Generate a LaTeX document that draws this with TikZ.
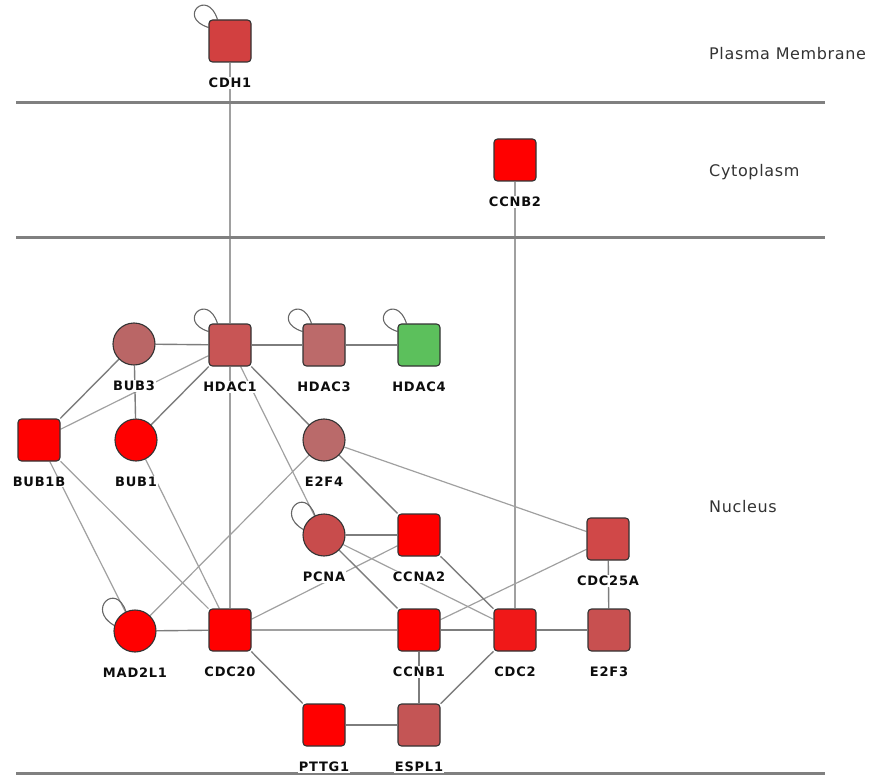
\documentclass[tikz,border=0pt]{standalone}
\usepackage{fontspec}
\setmainfont{DejaVu Sans}
\newfontfamily\lblfont[LetterSpace=6]{DejaVu Sans}
\newfontfamily\compfont[LetterSpace=4]{DejaVu Sans}
\usetikzlibrary{backgrounds}
\definecolor{cRed}{RGB}{255,0,0}
\definecolor{cCDH}{RGB}{210,64,64}
\definecolor{cHDA}{RGB}{200,85,85}
\definecolor{cBUB}{RGB}{186,102,102}
\definecolor{cHD3}{RGB}{188,106,106}
\definecolor{cHD4}{RGB}{92,192,92}
\definecolor{cE24}{RGB}{186,106,106}
\definecolor{cPCN}{RGB}{200,76,76}
\definecolor{cC25}{RGB}{208,72,72}
\definecolor{cCD2}{RGB}{240,24,24}
\definecolor{cE23}{RGB}{200,80,80}
\definecolor{cESP}{RGB}{196,85,85}
\definecolor{cLine}{RGB}{160,160,160}
\definecolor{cDLine}{RGB}{125,125,125}
\definecolor{cSep}{RGB}{128,128,128}
\begin{document}
\begin{tikzpicture}[x=1pt,y=-1pt,
  gene/.style={draw=black!80, line width=1.1pt, minimum size=42pt, inner sep=0pt,
    label={[lbl]below:#1}},
  sq/.style={gene=#1, rectangle, rounded corners=3.5pt},
  ci/.style={gene=#1, circle},
  lbl/.style={fill=white, inner sep=1pt, label distance=14pt,
    font=\lblfont\bfseries\fontsize{13}{15}\selectfont, text=black!95},
  edge/.style={draw=cLine, line width=1.2pt},
  dedge/.style={draw=cDLine, line width=1.4pt},
  selfloop/.style={draw=black!60, line width=1.1pt},
  comp/.style={font=\compfont\fontsize{16}{19}\selectfont, text=black!80, anchor=west, inner sep=0pt},
  sep/.style={draw=cSep, line width=3pt}]
\useasboundingbox (0,0) rectangle (873,778);

% compartments
\draw[sep] (16,103) -- (825,103);
\draw[sep] (16,238) -- (825,238);
\draw[sep] (16,773) -- (825,773);
\node[comp] (pm) at (709,54) {Plasma Membrane};
\node[comp] (cy) at (709,172) {Cytoplasm};
\node[comp] (nu) at (709,507) {Nucleus};

% nodes
\node[sq=CDH1, fill=cCDH] (cdh1) at (230,41) {};
\node[sq=CCNB2, fill=cRed] (ccnb2) at (515,160) {};
\node[ci=BUB3, fill=cBUB] (bub3) at (134,344) {};
\node[sq=HDAC1, fill=cHDA] (hdac1) at (230,345) {};
\node[sq=HDAC3, fill=cHD3] (hdac3) at (324,345) {};
\node[sq=HDAC4, fill=cHD4] (hdac4) at (419,345) {};
\node[sq=BUB1B, fill=cRed] (bub1b) at (39,440) {};
\node[ci=BUB1, fill=cRed] (bub1) at (136,440) {};
\node[ci=E2F4, fill=cE24] (e2f4) at (324,440) {};
\node[ci=PCNA, fill=cPCN] (pcna) at (324,535) {};
\node[sq=CCNA2, fill=cRed] (ccna2) at (419,535) {};
\node[sq=CDC25A, fill=cC25] (cdc25a) at (608,539) {};
\node[ci=MAD2L1, fill=cRed] (mad2l1) at (135,631) {};
\node[sq=CDC20, fill=cRed] (cdc20) at (230,630) {};
\node[sq=CCNB1, fill=cRed] (ccnb1) at (419,630) {};
\node[sq=CDC2, fill=cCD2] (cdc2) at (515,630) {};
\node[sq=E2F3, fill=cE23] (e2f3) at (609,630) {};
\node[sq=PTTG1, fill=cRed] (pttg1) at (324,725) {};
\node[sq=ESPL1, fill=cESP] (espl1) at (419,725) {};

\begin{pgfonlayer}{background}
% light edges
\draw[edge] (cdh1) -- (hdac1);
\draw[edge] (hdac1) -- (cdc20);
\draw[edge] (ccnb2) -- (cdc2);
\draw[edge] (hdac1) -- (bub1b);
\draw[edge] (hdac1) -- (pcna);
\draw[edge] (bub1b) -- (mad2l1);
\draw[edge] (bub1b) -- (cdc20);
\draw[edge] (bub1) -- (cdc20);
\draw[edge] (e2f4) -- (mad2l1);
\draw[edge] (e2f4) -- (cdc25a);
\draw[edge] (cdc20) -- (ccna2);
\draw[edge] (pcna) -- (cdc2);
\draw[edge] (ccnb1) -- (cdc25a);
\draw[edge] (cdc20) -- (ccnb1);
% darker edges
\draw[dedge] (bub3) -- (hdac1);
\draw[dedge] (hdac1) -- (hdac3);
\draw[dedge] (hdac3) -- (hdac4);
\draw[dedge] (bub3) -- (bub1b);
\draw[dedge] (bub3) -- (bub1);
\draw[dedge] (hdac1) -- (bub1);
\draw[dedge] (hdac1) -- (e2f4);
\draw[dedge] (e2f4) -- (ccna2);
\draw[dedge] (pcna) -- (ccna2);
\draw[dedge] (pcna) -- (ccnb1);
\draw[dedge] (ccna2) -- (cdc2);
\draw[dedge] (mad2l1) -- (cdc20);
\draw[dedge] (ccnb1) -- (cdc2);
\draw[dedge] (cdc2) -- (e2f3);
\draw[dedge] (cdc25a) -- (e2f3);
\draw[dedge] (cdc20) -- (pttg1);
\draw[dedge] (pttg1) -- (espl1);
\draw[dedge] (ccnb1) -- (espl1);
\draw[dedge] (cdc2) -- (espl1);
% self loops
\foreach \n in {cdh1,hdac1,hdac3,hdac4}{
  \draw[selfloop] ([yshift=-8pt]\n.north west) .. controls +(-32,-10) and +(-10,-32) .. ([xshift=9pt]\n.north west);
}
\foreach \n in {pcna,mad2l1}{
  \draw[selfloop] (\n.165) .. controls +(-28,-16) and +(-10,-30) .. (\n.115);
}
\end{pgfonlayer}
\end{tikzpicture}
\end{document}
